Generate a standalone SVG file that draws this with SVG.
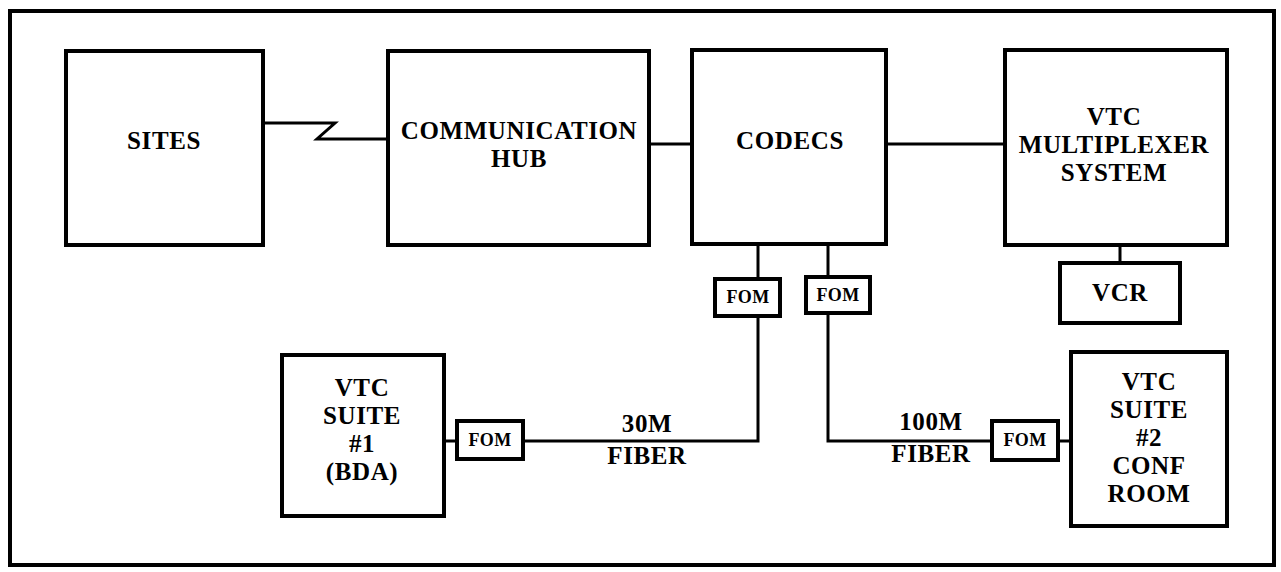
<svg xmlns="http://www.w3.org/2000/svg" width="1281" height="572" viewBox="0 0 1281 572">
<style>
.box{fill:#fff;stroke:#000;stroke-width:4}
.frame{fill:none;stroke:#000;stroke-width:4}
.ln{fill:none;stroke:#000;stroke-width:3;stroke-linejoin:miter}
text{font-family:"Liberation Serif","Times New Roman",serif;font-weight:bold;font-size:25px;letter-spacing:0.6px;text-anchor:middle;fill:#000}
.sm{font-size:18px;letter-spacing:0.3px}
</style>
<rect class="frame" x="10" y="11" width="1264" height="554"/>
<g id="connectors">
<path class="ln" d="M265,123 H335 L317,139 H388"/>
<path class="ln" d="M650,144 H692"/>
<path class="ln" d="M887,144 H1005"/>
<path class="ln" d="M1120,245 V263"/>
<path class="ln" d="M758,244 V279"/>
<path class="ln" d="M828,244 V277"/>
<path class="ln" d="M758,316 V441 H523"/>
<path class="ln" d="M443,441 H457"/>
<path class="ln" d="M828,313 V441 H992"/>
<path class="ln" d="M1058,441 H1071"/>
</g>
<g id="sites"><rect class="box" x="66" y="51" width="197" height="194"/><text x="164" y="149">SITES</text></g>
<g id="hub"><rect class="box" x="388" y="51" width="261" height="194"/><text x="519" y="139">COMMUNICATION</text><text x="519" y="167">HUB</text></g>
<g id="codecs"><rect class="box" x="692" y="50" width="194" height="194"/><text x="790" y="149">CODECS</text></g>
<g id="mux"><rect class="box" x="1005" y="50" width="222" height="195"/><text x="1114" y="125">VTC</text><text x="1114" y="153">MULTIPLEXER</text><text x="1114" y="181">SYSTEM</text></g>
<g id="vcr"><rect class="box" x="1060" y="263" width="120" height="60"/><text x="1120" y="301">VCR</text></g>
<g id="fom1"><rect class="box" x="715" y="279" width="65" height="37"/><text class="sm" x="748" y="303">FOM</text></g>
<g id="fom2"><rect class="box" x="806" y="277" width="64" height="36"/><text class="sm" x="838" y="301">FOM</text></g>
<g id="suite1"><rect class="box" x="282" y="355" width="162" height="161"/><text x="362" y="396">VTC</text><text x="362" y="424">SUITE</text><text x="362" y="452">#1</text><text x="362" y="480">(BDA)</text></g>
<g id="fom3"><rect class="box" x="457" y="421" width="66" height="38"/><text class="sm" x="490" y="446">FOM</text></g>
<g id="fom4"><rect class="box" x="992" y="421" width="66" height="39"/><text class="sm" x="1025" y="446">FOM</text></g>
<g id="suite2"><rect class="box" x="1071" y="352" width="156" height="174"/><text x="1149" y="390">VTC</text><text x="1149" y="418">SUITE</text><text x="1149" y="446">#2</text><text x="1149" y="474">CONF</text><text x="1149" y="502">ROOM</text></g>
<g id="labels"><text x="647" y="432">30M</text><text x="647" y="464">FIBER</text><text x="931" y="430">100M</text><text x="931" y="462">FIBER</text></g>
</svg>
